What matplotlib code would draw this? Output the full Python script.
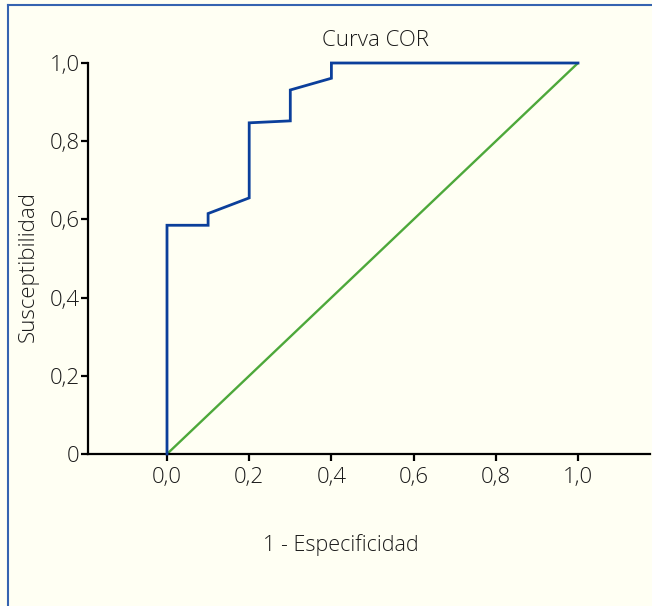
import matplotlib
matplotlib.use("Agg")
import matplotlib.pyplot as plt
from matplotlib.lines import Line2D

plt.rcParams['font.family'] = ['Open Sans', 'DejaVu Sans']

# ROC curve data
roc_fpr = [0.0, 0.0, 0.1, 0.1, 0.2, 0.2, 0.3, 0.3, 0.4, 0.4, 1.0]
roc_tpr = [0.0, 0.585, 0.585, 0.615, 0.655, 0.847, 0.852, 0.931, 0.961, 1.0, 1.0]
diag_x = [0.0, 1.0]
diag_y = [0.0, 1.0]

x_ticks = [0.0, 0.2, 0.4, 0.6, 0.8, 1.0]
x_labels = ["0,0", "0,2", "0,4", "0,6", "0,8", "1,0"]
y_ticks = [0.0, 0.2, 0.4, 0.6, 0.8, 1.0]
y_labels = ["0", "0,2", "0,4", "0,6", "0,8", "1,0"]

bg = "#FFFFF3"
txt = "#1a1a1a"
W, H = 652, 606
fig = plt.figure(figsize=(W / 100, H / 100), dpi=100, facecolor=bg)

ax_left, ax_right = 88, 650
ax_top, ax_bottom = 63, 454
ax = fig.add_axes([ax_left / W, 1 - ax_bottom / H, (ax_right - ax_left) / W, (ax_bottom - ax_top) / H])
ax.set_facecolor(bg)

x0_px, x1_px = 167, 578
scale = (x1_px - x0_px)
ax.set_xlim((ax_left - x0_px) / scale, (ax_right - x0_px) / scale)
ax.set_ylim(0, 1)

ax.plot(diag_x, diag_y, color="#4DA83A", lw=1.7, solid_capstyle="butt", zorder=2)
ax.plot(roc_fpr, roc_tpr, color="#0B3F9B", lw=2.0, solid_joinstyle="miter", zorder=3, clip_on=False)

for s in ["top", "right"]:
    ax.spines[s].set_visible(False)
for s in ["left", "bottom"]:
    ax.spines[s].set_linewidth(1.6)
    ax.spines[s].set_color("black")

ax.set_xticks(x_ticks)
ax.set_xticklabels(x_labels)
ax.set_yticks(y_ticks)
ax.set_yticklabels(y_labels)
ax.tick_params(axis="both", direction="out", length=5, width=1.6, labelsize=16, colors="black",
               labelcolor=txt)
ax.tick_params(axis="x", pad=4)
ax.tick_params(axis="y", pad=1)
for lab in ax.get_xticklabels() + ax.get_yticklabels():
    lab.set_fontweight("light")

fig.text(375 / W, 1 - 40 / H, "Curva COR", ha="center", va="center", fontsize=16, color=txt, fontweight="light")
fig.text(341 / W, 1 - 545 / H, "1 - Especificidad", ha="center", va="center", fontsize=15.5, color=txt, fontweight="light")
fig.text(28 / W, 1 - 267 / H, "Susceptibilidad", ha="center", va="center", rotation=90, fontsize=16, color=txt, fontweight="light")

# frame lines (left and top)
fig.add_artist(Line2D([7.5 / W, 7.5 / W], [0, 1 - 5 / H], transform=fig.transFigure, color="#3563B0", lw=1.5))
fig.add_artist(Line2D([7.5 / W, 1], [1 - 5 / H, 1 - 5 / H], transform=fig.transFigure, color="#3563B0", lw=1.5))

fig.savefig("out.png", dpi=100, facecolor=bg)
